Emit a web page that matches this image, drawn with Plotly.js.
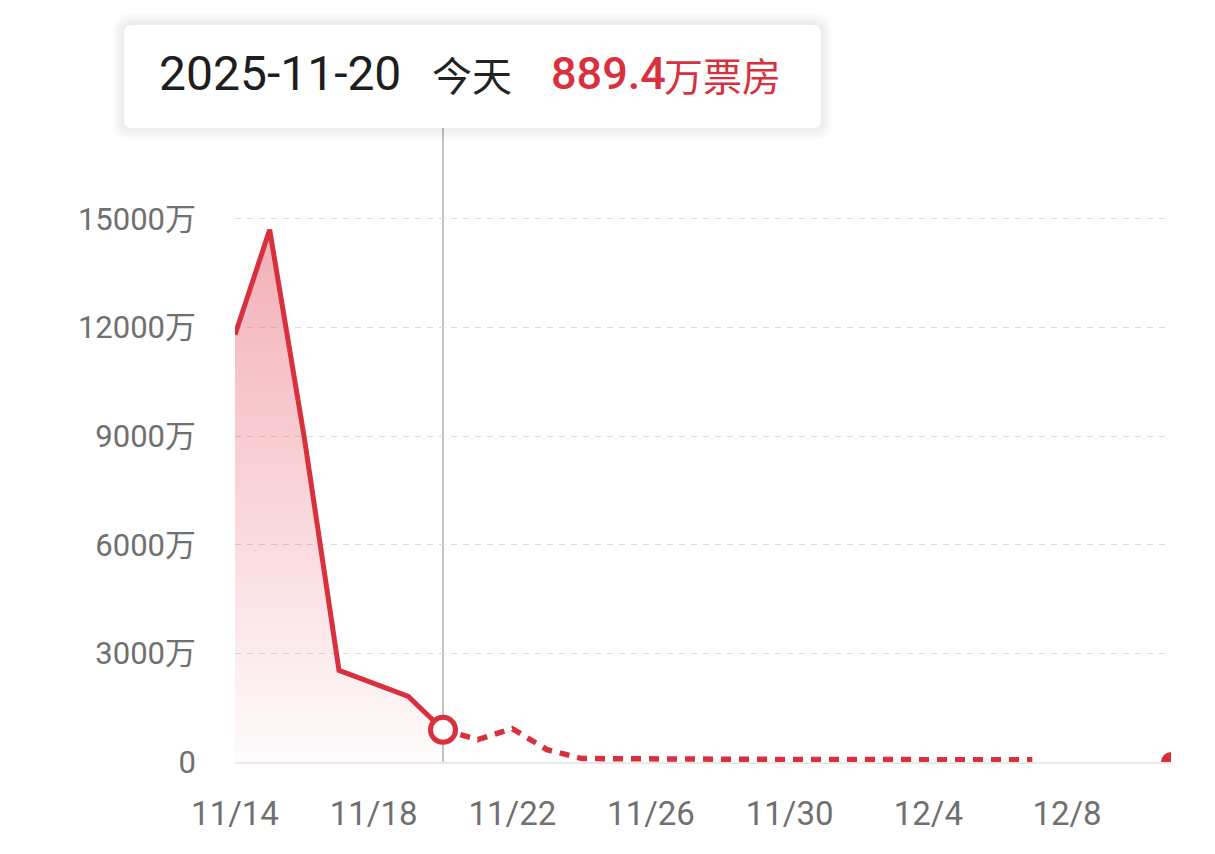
<!DOCTYPE html>
<html>
<head>
<meta charset="utf-8">
<script src="https://cdn.plot.ly/plotly-3.0.1.min.js"></script>
<style>
  html, body { margin: 0; padding: 0; background: #fff; }
  #chart { width: 1215px; height: 854px; }
</style>
</head>
<body>
<div id="chart"></div>
<script>
// daily box office (万), 11/14 - 12/7
var dates = [
  '2025-11-14', '2025-11-15', '2025-11-16', '2025-11-17', '2025-11-18', '2025-11-19',
  '2025-11-20', '2025-11-21', '2025-11-22', '2025-11-23', '2025-11-24', '2025-11-25',
  '2025-11-26', '2025-11-27', '2025-11-28', '2025-11-29', '2025-11-30', '2025-12-01',
  '2025-12-02', '2025-12-03', '2025-12-04', '2025-12-05', '2025-12-06', '2025-12-07'
];
var boxOffice = [
  11800, 14700, 8950, 2530, 2170, 1810,
  889.4, 620, 920, 340, 95, 85,
  80, 80, 75, 75, 70, 70,
  70, 65, 65, 65, 60, 60
];
var todayIndex = 6;   // 11/20, solid line up to here, forecast after
var endDate = '2025-12-11';
var endValue = 0;

var yTicks = [0, 3000, 6000, 9000, 12000, 15000];
var yTickText = yTicks.map(function (v) { return v === 0 ? '0' : v + '万'; });

var tipDate = '2025-11-20';
var tipDay = '今天';
var tipValue = '889.4';
var tipUnit = '万票房';

var RED = '#d9303d';
var W = 1215, H = 854;
var M = {l: 235, r: 44, t: 208, b: 92};

// pixel -> paper helpers for the tooltip box
function px(x) { return (x - M.l) / (W - M.l - M.r); }
function py(y) { return (H - M.b - y) / (H - M.t - M.b); }

function roundRect(x0, y0, x1, y1, r) {
  return 'M' + px(x0 + r) + ',' + py(y0) +
    ' L' + px(x1 - r) + ',' + py(y0) +
    ' Q' + px(x1) + ',' + py(y0) + ' ' + px(x1) + ',' + py(y0 + r) +
    ' L' + px(x1) + ',' + py(y1 - r) +
    ' Q' + px(x1) + ',' + py(y1) + ' ' + px(x1 - r) + ',' + py(y1) +
    ' L' + px(x0 + r) + ',' + py(y1) +
    ' Q' + px(x0) + ',' + py(y1) + ' ' + px(x0) + ',' + py(y1 - r) +
    ' L' + px(x0) + ',' + py(y0 + r) +
    ' Q' + px(x0) + ',' + py(y0) + ' ' + px(x0 + r) + ',' + py(y0) + ' Z';
}

var solid = {
  x: dates.slice(0, todayIndex + 1),
  y: boxOffice.slice(0, todayIndex + 1),
  type: 'scatter',
  mode: 'lines',
  line: {color: RED, width: 5},
  fill: 'tozeroy',
  fillgradient: {
    type: 'vertical',
    start: 0,
    stop: 15000,
    colorscale: [[0, 'rgba(226,60,80,0.02)'], [1, 'rgba(226,60,80,0.42)']]
  },
  hoverinfo: 'skip'
};

var forecast = {
  x: dates.slice(todayIndex),
  y: boxOffice.slice(todayIndex),
  type: 'scatter',
  mode: 'lines',
  line: {color: RED, width: 5.5, dash: '10px,8px'},
  hoverinfo: 'skip'
};

var todayDot = {
  x: [dates[todayIndex]],
  y: [boxOffice[todayIndex]],
  type: 'scatter',
  mode: 'markers',
  marker: {size: 25, color: '#fff', line: {color: RED, width: 5}},
  hoverinfo: 'skip'
};

var endDot = {
  x: [endDate],
  y: [endValue],
  type: 'scatter',
  mode: 'markers',
  marker: {size: 20, color: RED},
  hoverinfo: 'skip'
};

var shapes = [];
// soft shadow
for (var i = 6; i >= 1; i--) {
  shapes.push({
    type: 'path', xref: 'paper', yref: 'paper', layer: 'above',
    path: roundRect(124 - i * 2, 25 - i * 2, 821 + i * 2, 128 + i * 2, 8 + i * 2),
    fillcolor: 'rgba(0,0,0,0.012)', line: {width: 0}
  });
}
shapes.push({
  type: 'path', xref: 'paper', yref: 'paper', layer: 'above',
  path: roundRect(124, 25, 821, 128, 8),
  fillcolor: '#ffffff', line: {width: 0}
});
// today marker line
shapes.push({
  type: 'line', xref: 'x', yref: 'paper', layer: 'below',
  x0: dates[todayIndex], x1: dates[todayIndex], y0: 0, y1: py(128),
  line: {color: '#9c9c9c', width: 1.2}
});

var tipY = py(74);
var annotations = [
  {text: tipDate, x: px(157), y: tipY, xref: 'paper', yref: 'paper', xanchor: 'left', yanchor: 'middle',
   showarrow: false, font: {family: 'Roboto', size: 48, color: '#1e1e1e'}},
  {text: tipDay, x: px(430), y: tipY, xref: 'paper', yref: 'paper', xanchor: 'left', yanchor: 'middle',
   showarrow: false, font: {family: 'Noto Sans CJK SC', size: 40, color: '#222'}},
  {text: tipValue, x: px(549), y: tipY, xref: 'paper', yref: 'paper', xanchor: 'left', yanchor: 'middle',
   showarrow: false, font: {family: 'Roboto', size: 45, color: RED, weight: 500}},
  {text: tipUnit, x: px(662), y: tipY, xref: 'paper', yref: 'paper', xanchor: 'left', yanchor: 'middle',
   showarrow: false, font: {family: 'Noto Sans CJK SC', size: 39, color: RED}}
];

var layout = {
  width: W,
  height: H,
  margin: M,
  paper_bgcolor: '#fff',
  plot_bgcolor: '#fff',
  showlegend: false,
  hovermode: false,
  xaxis: {
    type: 'date',
    range: [dates[0], endDate],
    tick0: dates[0],
    dtick: 4 * 86400000,
    tickformat: '%-m/%-d',
    showgrid: false,
    zeroline: false,
    showline: true,
    linecolor: '#e9e9e9',
    linewidth: 1.5,
    ticks: '',
    ticklabelstandoff: 22,
    tickfont: {family: 'Roboto, Noto Sans CJK SC', size: 33, color: '#707070'},
    fixedrange: true
  },
  yaxis: {
    range: [0, 15300],
    tickvals: yTicks,
    ticktext: yTickText,
    showgrid: true,
    gridcolor: '#dcdcdc',
    gridwidth: 1,
    griddash: '6px,6px',
    zeroline: false,
    showline: false,
    ticks: '',
    ticklabelstandoff: 38,
    tickfont: {family: 'Roboto, Noto Sans CJK SC', size: 31, color: '#707070'},
    fixedrange: true
  },
  shapes: shapes,
  annotations: annotations
};

Plotly.newPlot('chart', [solid, forecast, todayDot, endDot], layout, {displayModeBar: false, staticPlot: true});
</script>
</body>
</html>
